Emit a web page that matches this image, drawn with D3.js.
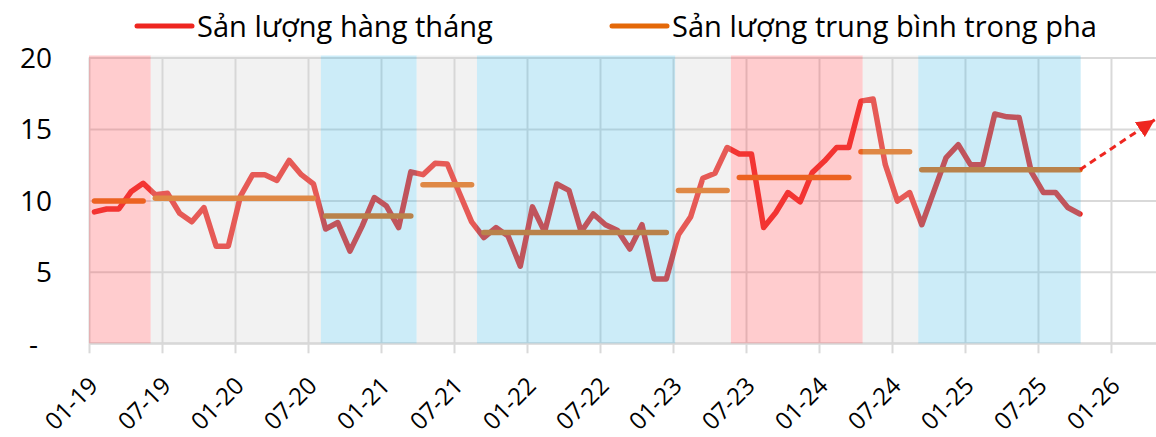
<!DOCTYPE html>
<html><head><meta charset="utf-8">
<script src="https://cdn.jsdelivr.net/npm/d3@7"></script>
<style>
html,body{margin:0;padding:0;background:#fff;overflow:hidden}
svg{display:block}
text{font-family:"Open Sans",sans-serif;fill:#000}
</style>
</head><body>
<svg id="chart" width="1156" height="437"></svg>
<script>
// Monthly output, 01-19 .. 10-25
const monthly = [9.2,9.4,9.4,10.6,11.2,10.4,10.5,9.1,8.5,9.5,6.8,6.8,10.3,11.8,11.8,11.4,12.8,11.8,11.15,8.0,
  8.45,6.45,8.2,10.2,9.6,8.1,12.0,11.8,12.6,12.55,10.5,8.5,7.4,8.1,7.5,5.4,9.55,7.8,11.15,10.7,
  7.8,9.05,8.3,7.9,6.6,8.3,4.5,4.5,7.6,8.85,11.55,11.9,13.7,13.25,13.25,8.1,9.15,10.55,9.9,11.95,
  12.75,13.7,13.7,16.95,17.1,12.5,9.95,10.55,8.3,10.65,13.0,13.9,12.5,12.5,16.05,15.85,15.8,12.0,10.55,10.55,
  9.5,9.05];
// Phases: first / last monthly point index, average value
const phaseFirst = [0,5,19,27,32,48,53,63,68];
const phaseLast  = [4,18,26,31,47,52,62,67,81];
const phaseMean  = [9.95,10.15,8.9,11.1,7.75,10.7,11.6,13.4,12.15];
// Background bands (month units from 01-19)
const bandStart = [0,5.07,19.06,26.93,31.89,48.18,52.76,63.59,68.16];
const bandEnd   = [5.07,19.06,26.93,31.89,48.18,52.76,63.59,68.16,81.51];
const bandType  = ["pink","grey","blue","grey","blue","grey","pink","grey","blue"];
// Trend arrow (month, value)
const arrowPts = [[81.45,12.15],[87.6,15.65]];
// Axis ticks
const xTickMonths = [0,6,12,18,24,30,36,42,48,54,60,66,72,78,84];
const xTickLabels = ["01-19","07-19","01-20","07-20","01-21","07-21","01-22","07-22","01-23","07-23","01-24","07-24","01-25","07-25","01-26"];
const yTickValues = [0,5,10,15,20];
const yTickLabels = ["-","5","10","15","20"];
const legendLabels = ["Sản lượng hàng tháng","Sản lượng trung bình trong pha"];

const RED = "rgb(238,38,32)", ORANGE = "rgb(228,104,8)";
const bandColor = {pink:"rgb(255,85,92)", grey:"rgb(211,211,211)", blue:"rgb(85,192,232)"};
const W = 1156, L = 89, T = 57.5, B = 343.3;
const svg = d3.select("#chart");
const x = d3.scaleLinear().domain([0, 87.7]).range([L, W]);
const y = d3.scaleLinear().domain([0, 20]).range([B, T]);
const PO = 0.45; // point offset within month

// horizontal grid + y labels
const yAxis = d3.axisLeft(y).tickValues(yTickValues).tickSize(-(W - L)).tickPadding(37)
  .tickFormat((d,i) => yTickLabels[i]);
const gy = svg.append("g").attr("transform", `translate(${L},0)`).call(yAxis);
gy.select(".domain").remove();
gy.selectAll("line").attr("stroke", "#d9d9d9").attr("stroke-width", 2);
gy.selectAll("text").attr("font-size", 28).attr("font-family", '"Open Sans",sans-serif')
  .attr("dy", "0.35em").attr("fill", "#000")
  .attr("x", (d) => d === 0 ? -51 : -37);

// vertical grid
const gridX = d3.axisBottom(x).tickValues(xTickMonths).tickSize(-(B - T)).tickFormat("");
const gg = svg.append("g").attr("transform", `translate(0,${B})`).call(gridX);
gg.select(".domain").remove();
gg.selectAll("line").attr("stroke", "#d9d9d9").attr("stroke-width", 2);

// x axis ticks + labels
const xAxis = d3.axisBottom(x).tickValues(xTickMonths).tickSize(10).tickFormat((d,i) => xTickLabels[i]);
const gx = svg.append("g").attr("transform", `translate(0,${B})`).call(xAxis);
gx.select(".domain").attr("stroke", "#d9d9d9").attr("stroke-width", 2).attr("d", `M${L},0H${W}`);
gx.selectAll("line").attr("stroke", "#d9d9d9").attr("stroke-width", 2);
gx.selectAll("text").attr("font-size", 24).attr("font-family", '"Open Sans",sans-serif').attr("fill", "#000")
  .attr("x", 0).attr("y", 0).attr("dy", 0).attr("text-anchor", "end")
  .attr("transform", "translate(10,44) rotate(-45)");

// monthly line
const line = d3.line().x((d,i) => x(i + PO)).y(d => y(d));
svg.append("path").datum(monthly).attr("d", line).attr("fill", "none")
  .attr("stroke", RED).attr("stroke-width", 5.5).attr("stroke-linejoin", "round").attr("stroke-linecap", "round");

// phase means
svg.append("g").selectAll("line").data(phaseMean).join("line")
  .attr("x1", (d,i) => x(phaseFirst[i] + PO)).attr("x2", (d,i) => x(phaseLast[i] + PO))
  .attr("y1", d => y(d)).attr("y2", d => y(d))
  .attr("stroke", ORANGE).attr("stroke-width", 5.5).attr("stroke-linecap", "round");

// translucent bands on top
svg.append("g").selectAll("rect").data(bandType).join("rect")
  .attr("x", (d,i) => x(bandStart[i])).attr("width", (d,i) => x(bandEnd[i]) - x(bandStart[i]))
  .attr("y", y(20) - 2).attr("height", y(0) - y(20) + 2)
  .attr("fill", d => bandColor[d]).attr("fill-opacity", 0.3);

// trend arrow
svg.append("defs").append("marker").attr("id", "ah").attr("viewBox", "0 0 10 10")
  .attr("refX", 10).attr("refY", 5).attr("markerWidth", 6).attr("markerHeight", 6)
  .attr("orient", "auto").attr("markerUnits", "strokeWidth")
  .append("path").attr("d", "M0,0L10,5L0,10Z").attr("fill", RED);
svg.append("path").datum(arrowPts)
  .attr("d", d3.line().x(d => x(d[0])).y(d => y(d[1])))
  .attr("fill", "none").attr("stroke", RED).attr("stroke-width", 3)
  .attr("stroke-dasharray", "7,5").attr("marker-end", "url(#ah)");

// legend
const lg = svg.append("g");
const legX = [137, 612], legColors = [RED, ORANGE];
legendLabels.forEach((t, i) => {
  lg.append("line").attr("x1", legX[i]).attr("x2", legX[i] + 55).attr("y1", 26).attr("y2", 26)
    .attr("stroke", legColors[i]).attr("stroke-width", 5).attr("stroke-linecap", "round");
  lg.append("text").attr("x", legX[i] + 60).attr("y", 37).attr("font-size", 28).text(t);
});
const t0 = lg.select("text").node();
const fs = 28 * 296 / t0.getComputedTextLength();
lg.selectAll("text").attr("font-size", Math.min(30, fs));
</script>
</body></html>
